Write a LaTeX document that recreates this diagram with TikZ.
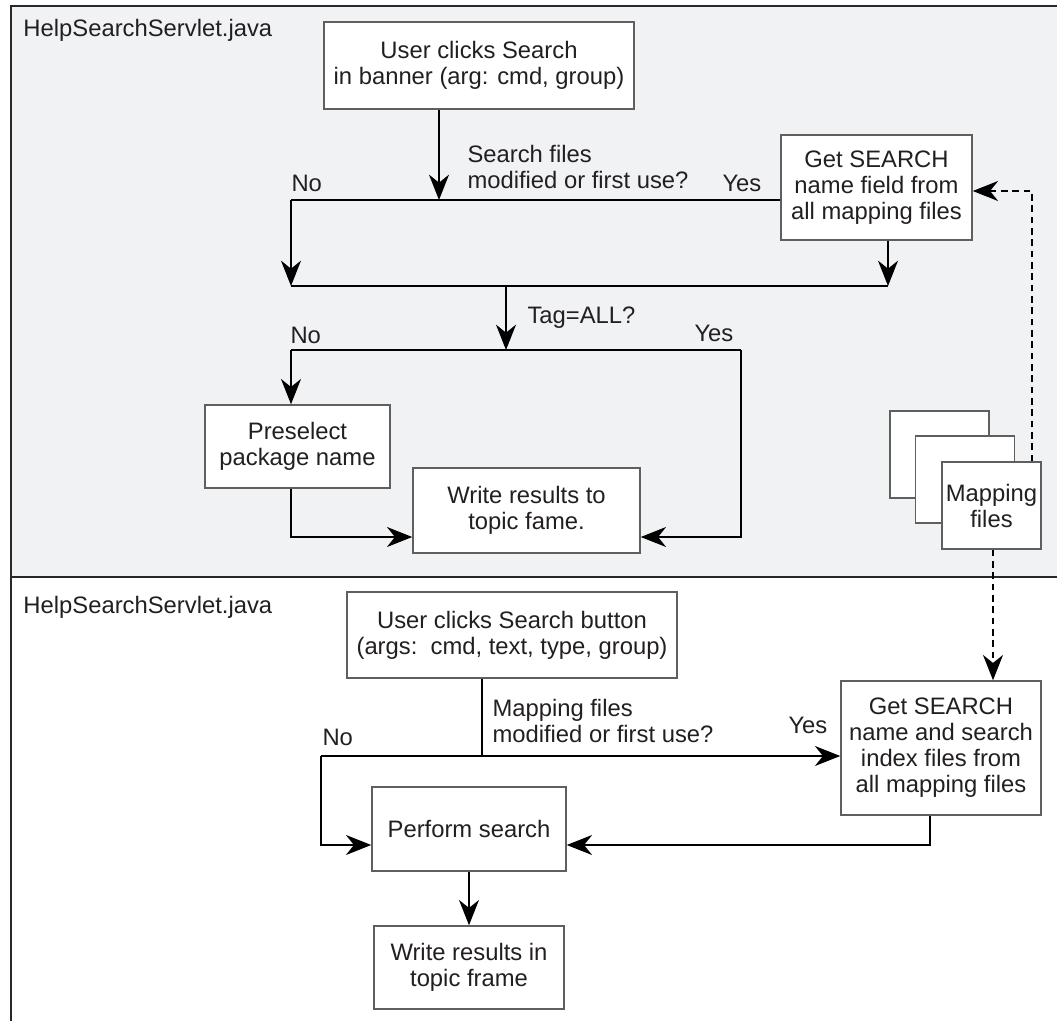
\documentclass[tikz,border=0pt]{standalone}
\usepackage{fontspec}
\setmainfont{Liberation Sans}
\usetikzlibrary{arrows.meta}

\definecolor{panelgray}{RGB}{241,242,244}
\definecolor{framegray}{RGB}{40,40,40}
\definecolor{boxgray}{RGB}{95,95,95}
\definecolor{inkgray}{RGB}{35,31,32}

\newcommand\diafont{\fontsize{17.85}{19.5}\selectfont}

\tikzset{every picture/.style={line width=0.75pt}}
\tikzset{
  flowbox/.style={draw=boxgray, fill=white, line width=1.1pt, align=center, inner sep=0pt, text=inkgray, font=\diafont},
  flowtext/.style={anchor=west, align=left, inner sep=0pt, text=inkgray, font=\diafont},
  flowline/.style={draw=black, line width=1.1pt},
  flowarrow/.style={flowline, -{Stealth[length=19pt,width=15pt,inset=6pt]}},
  dasharrow/.style={flowarrow, dash pattern=on 5pt off 3.5pt},
}

\begin{document}
\begin{tikzpicture}[x=0.75pt,y=0.75pt,yscale=-1,xscale=1]
\useasboundingbox (0,0) rectangle (1057,1021);

%Shape: Rectangle (upper panel)
\fill[panelgray] (11,6) rectangle (1057,577);
%Straight Lines (frame)
\draw[framegray, line width=2pt] (11,1021) -- (11,6) -- (1057,6);
\draw[framegray, line width=2pt] (11,577) -- (1057,577);

% Text Node
\node[flowtext] (servletA) at (23,30) {HelpSearchServlet.java};
\node[flowtext] (servletB) at (23,607) {HelpSearchServlet.java};

%Shape: Rectangle
\node[flowbox, minimum width=232.5pt, minimum height=65.25pt] (clickbanner) at (479,65.5) {User clicks Search\\in banner (arg: cmd, group)};
\node[flowbox, minimum width=143.25pt, minimum height=78.75pt] (getfield) at (876.5,187.5) {Get SEARCH\\name field from\\all mapping files};
\node[flowbox, minimum width=138.75pt, minimum height=62.25pt] (preselect) at (297.5,446.5) {Preselect\\package name};
\node[flowbox, minimum width=170.25pt, minimum height=63.75pt] (writefame) at (526.5,510.5) {Write results to\\topic fame.};
\node[flowbox, minimum width=74.25pt, minimum height=65.25pt] (mapback) at (939.5,454.5) {};
\node[flowbox, minimum width=74.25pt, minimum height=65.25pt] (mapmid) at (965,479.5) {};
\node[flowbox, minimum width=74.25pt, minimum height=65.25pt] (mapfiles) at (991.5,505.5) {Mapping\\files};

\node[flowbox, minimum width=247.5pt, minimum height=64.5pt] (clickbutton) at (512,635) {User clicks Search button\\(args:\ \ cmd, text, type, group)};
\node[flowbox, minimum width=150pt, minimum height=100.5pt] (getindex) at (941,748) {Get SEARCH\\name and search\\index files from\\all mapping files};
\node[flowbox, minimum width=145.5pt, minimum height=63pt] (perform) at (469,829) {Perform search};
\node[flowbox, minimum width=142.5pt, minimum height=62.25pt] (writeframe) at (469,967.5) {Write results in\\topic frame};

% junction points
\coordinate (askA) at (439,200);
\coordinate (noA) at (291,200);
\coordinate (joinA) at (291,286);
\coordinate (joinB) at (888,286);
\coordinate (askTag) at (506,286);
\coordinate (tagHit) at (506,350);
\coordinate (noTag) at (291,350);
\coordinate (yesTag) at (741,350);
\coordinate (intoWrite) at (0,537);
\coordinate (feedUp) at (1032,191);
\coordinate (feedDown) at (993,0);
\coordinate (askB) at (482,756);
\coordinate (noB) at (321,756);
\coordinate (intoPerform) at (0,845);
\coordinate (backPerform) at (930,0);

%Straight Lines
\draw[flowarrow] (askA |- clickbanner.south) -- (askA);
\draw[flowline] (noA) -- (getfield.west |- noA);
\draw[flowarrow] (noA) -- (joinA);
\draw[flowarrow] (joinB |- getfield.south) -- (joinB);
\draw[flowline] (joinA) -- (joinB);
\draw[flowarrow] (askTag) -- (tagHit);
\draw[flowline] (noTag) -- (yesTag);
\draw[flowarrow] (noTag) -- (noTag |- preselect.north);
\draw[flowarrow] (noTag |- preselect.south) |- (writefame.west |- intoWrite);
\draw[flowarrow] (yesTag) |- (writefame.east |- intoWrite);
\draw[dasharrow] (feedUp |- mapfiles.north) -- (feedUp) -- (getfield.east |- feedUp);
\draw[dasharrow] (feedDown |- mapfiles.south) -- (feedDown |- getindex.north);

\draw[flowline] (askB |- clickbutton.south) -- (askB);
\draw[flowarrow] (noB) -- (getindex.west |- noB);
\draw[flowarrow] (noB) |- (perform.west |- intoPerform);
\draw[flowarrow] (backPerform |- getindex.south) |- (perform.east |- intoPerform);
\draw[flowarrow] (perform.south) -- (writeframe.north);

% Text Node
\node[flowtext] (askAtext) at (467,167) {Search files\\modified or first use?};
\node[flowtext] (noAtext) at (291,183) {No};
\node[flowtext] (yesAtext) at (722,183) {Yes};
\node[flowtext] (tagtext) at (527,318) {Tag=ALL?};
\node[flowtext] (noTagtext) at (290,335) {No};
\node[flowtext] (yesTagtext) at (694,333) {Yes};
\node[flowtext] (askBtext) at (492,721) {Mapping files\\modified or first use?};
\node[flowtext] (noBtext) at (322,737) {No};
\node[flowtext] (yesBtext) at (788,725) {Yes};

\end{tikzpicture}
\end{document}
